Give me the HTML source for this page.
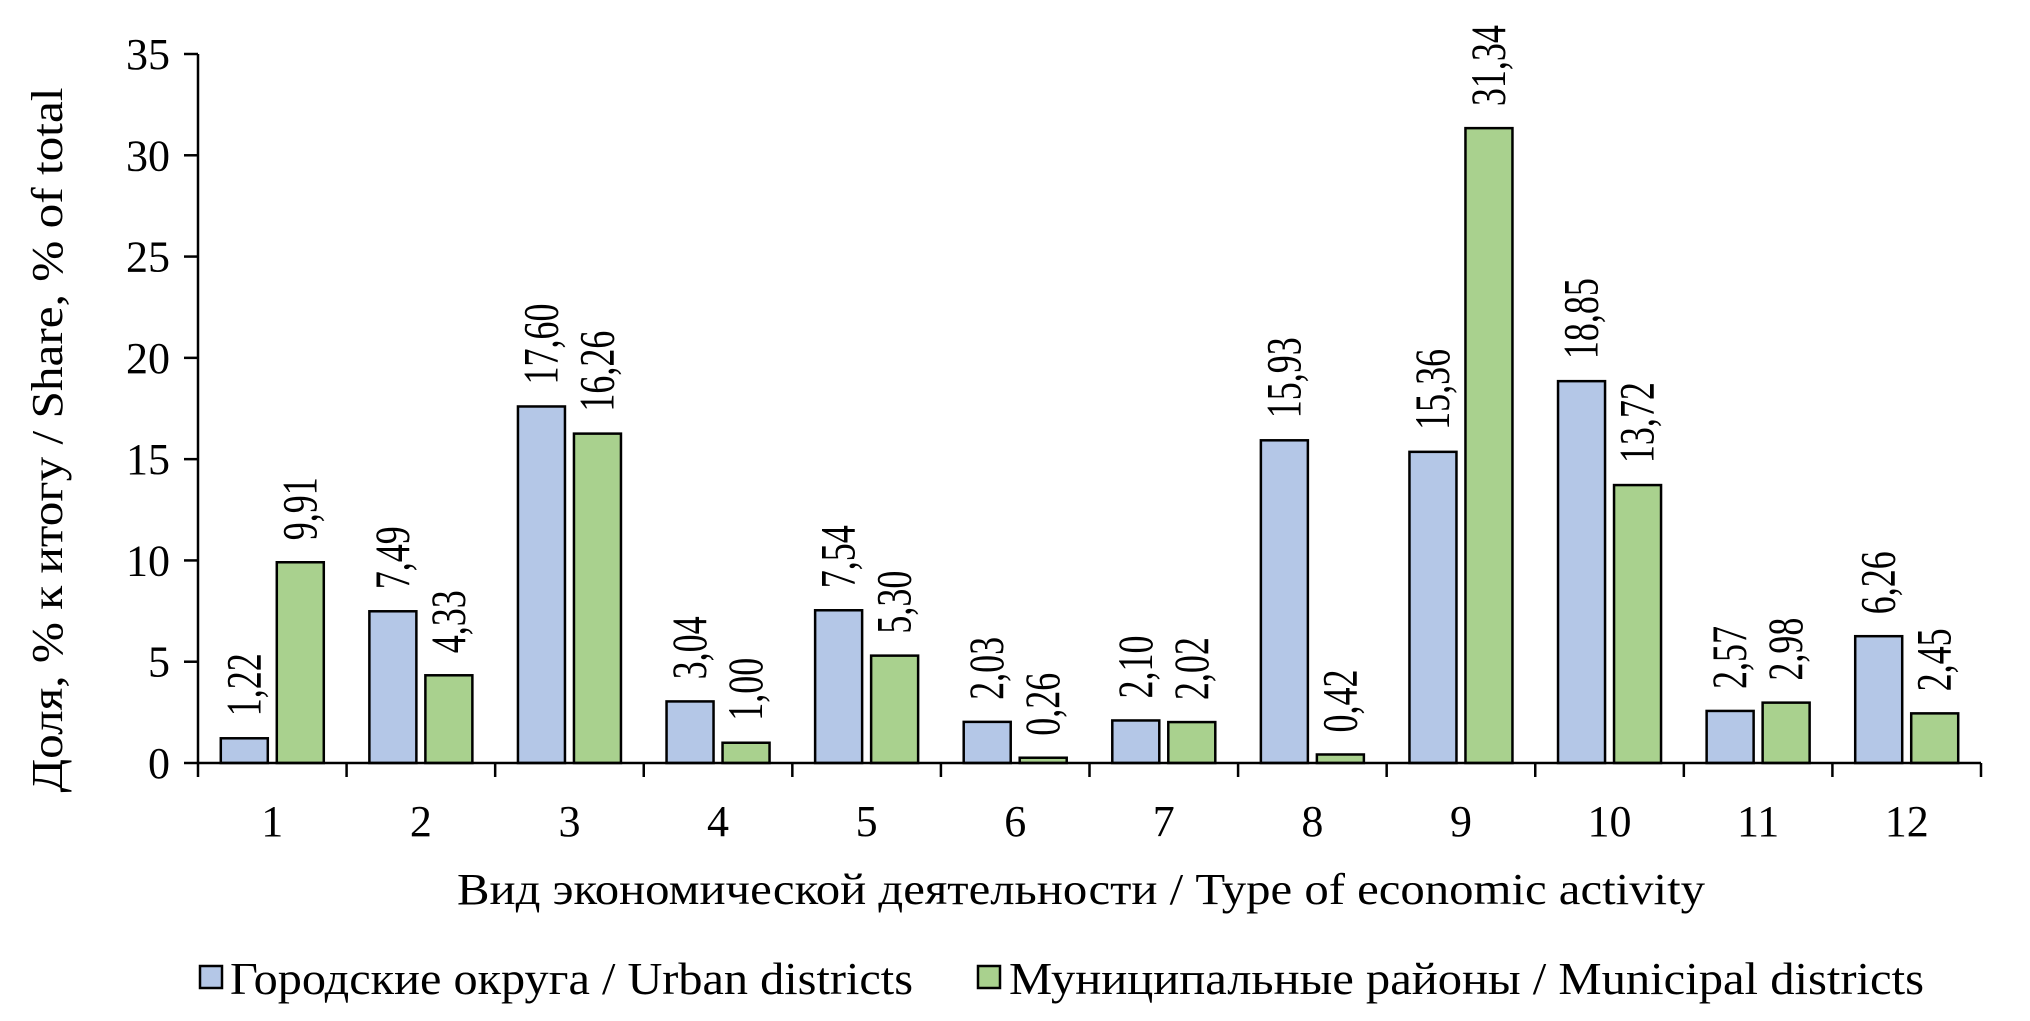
<!DOCTYPE html>
<html><head><meta charset="utf-8"><style>
html,body{margin:0;padding:0;background:#fff;}
svg{display:block;}
text{font-family:"Liberation Serif","Times New Roman","DejaVu Serif",serif;}
</style></head><body>
<svg id="chart" width="2030" height="1021" viewBox="0 0 2030 1021" style="position:absolute;left:0;top:0">
</svg>
<script>
const categories = ["1","2","3","4","5","6","7","8","9","10","11","12"];
const urbanValues = [1.22,7.49,17.60,3.04,7.54,2.03,2.10,15.93,15.36,18.85,2.57,6.26];
const municipalValues = [9.91,4.33,16.26,1.00,5.30,0.26,2.02,0.42,31.34,13.72,2.98,2.45];
const yTicks = [0,5,10,15,20,25,30,35];

const NS = "http://www.w3.org/2000/svg";
const svg = document.getElementById('chart');
const X0 = 198, X1 = 1981, Y0 = 763, Y35 = 54, YMAX = 35;
const FF = '"Liberation Serif","Times New Roman","DejaVu Serif",serif';
const catW = (X1 - X0) / categories.length;
const barW = 47, gap = 9;
function y(v){ return Y0 - (v / YMAX) * (Y0 - Y35); }
function xc(i){ return X0 + catW * (i + 0.5); }
function mk(tag, attrs, parent){
  const e = document.createElementNS(NS, tag);
  for (const k in attrs) e.setAttribute(k, attrs[k]);
  if (tag === 'text') e.setAttribute('font-family', FF);
  (parent || svg).appendChild(e);
  return e;
}
function fmt(v){ return v.toFixed(2).replace('.', ','); }

const series = [
  {vals: urbanValues, fill: "#b4c7e7", name: "urban"},
  {vals: municipalValues, fill: "#a9d18e", name: "municipal"}
];
series.forEach((s, si) => {
  s.vals.forEach((v, i) => {
    const bx = si === 0 ? xc(i) - gap/2 - barW : xc(i) + gap/2;
    const r = mk('rect', {x: bx, y: y(v), width: barW, height: Y0 - y(v), fill: s.fill, stroke: "#000", "stroke-width": 2.5});
    
    
    const cx = bx + barW/2 + 16, by = y(v) - 22;
    const t = mk('text', {x: 0, y: 0, "font-size": 50, transform: `translate(${cx},${by}) rotate(-90)`});
    t.textContent = fmt(v);
    
    
    const L = t.getComputedTextLength();
    t.setAttribute('textLength', (L * 0.72).toFixed(1));
    t.setAttribute('lengthAdjust', 'spacingAndGlyphs');
  });
});

const yAxis = mk('line', {x1: X0, y1: Y35, x2: X0, y2: Y0, stroke: "#000", "stroke-width": 2.5});


const xAxis = mk('line', {x1: X0, y1: Y0, x2: X1, y2: Y0, stroke: "#000", "stroke-width": 2.5});


yTicks.forEach(v => {
  mk('line', {x1: X0 - 14, y1: y(v), x2: X0, y2: y(v), stroke: "#000", "stroke-width": 2.5});
  const t = mk('text', {x: X0 - 28, y: y(v) + 15, "font-size": 44, "text-anchor": "end"});
  t.textContent = v;
  
  
});
for (let i = 0; i <= categories.length; i++) {
  const tx = X0 + catW * i;
  mk('line', {x1: tx, y1: Y0, x2: tx, y2: Y0 + 14, stroke: "#000", "stroke-width": 2.5});
}
categories.forEach((c, i) => {
  const t = mk('text', {x: xc(i), y: 836, "font-size": 44, "text-anchor": "middle"});
  t.textContent = c;
  
  
});
</script>
<svg style="position:absolute;left:0;top:0" width="2030" height="1021">
<text x="0" y="0" font-size="44" font-family='"Liberation Serif","Times New Roman","DejaVu Serif",serif' transform="translate(62,440) rotate(-90)" text-anchor="middle" textLength="705" lengthAdjust="spacingAndGlyphs">Доля, % к итогу / Share, % of total</text>
<text x="457" y="904" font-size="44" font-family='"Liberation Serif","Times New Roman","DejaVu Serif",serif' textLength="1248" lengthAdjust="spacingAndGlyphs">Вид экономической деятельности / Type of economic activity</text>
<rect x="200" y="966" width="22" height="22" fill="#b4c7e7" stroke="#000" stroke-width="2.5"/>
<text x="230" y="994" font-size="46" font-family='"Liberation Serif","Times New Roman","DejaVu Serif",serif' textLength="683" lengthAdjust="spacingAndGlyphs">Городские округа / Urban districts</text>
<rect x="978" y="966" width="22" height="22" fill="#a9d18e" stroke="#000" stroke-width="2.5"/>
<text x="1009" y="994" font-size="46" font-family='"Liberation Serif","Times New Roman","DejaVu Serif",serif' textLength="915" lengthAdjust="spacingAndGlyphs">Муниципальные районы / Municipal districts</text>
</svg>
</body></html>
